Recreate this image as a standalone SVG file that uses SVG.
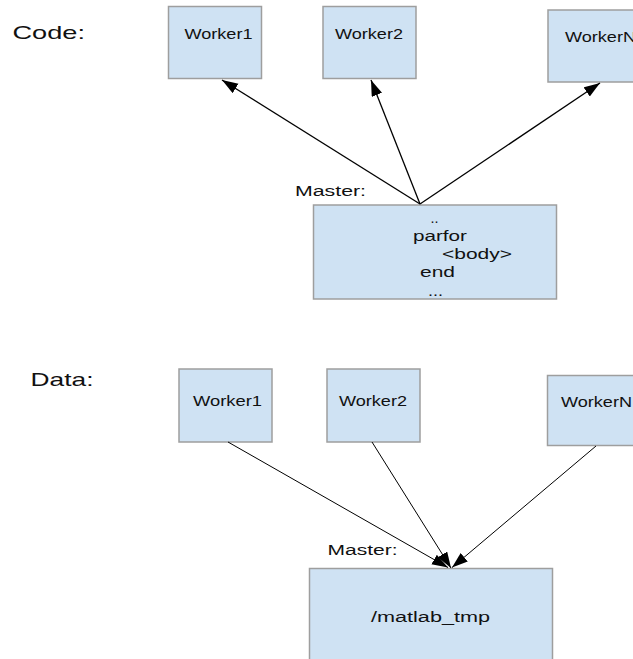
<svg xmlns="http://www.w3.org/2000/svg" width="633" height="659" viewBox="0 0 633 659">
  <style>
    .box { fill: #cfe2f3; stroke: #9e9e9e; stroke-width: 1.5; }
    .t { font-family: "Liberation Sans", Arial, sans-serif; fill: #111; }
    .lbl { font-size: 14.5px; }
    .big { font-size: 19px; }
    .mid { font-size: 15.5px; }
    .arr1 { stroke: #000; stroke-width: 1.3; fill: none; marker-end: url(#ah); }
    .arr2 { stroke: #000; stroke-width: 1; fill: none; marker-end: url(#ah); }
  </style>
  <defs>
    <marker id="ah" markerUnits="userSpaceOnUse" markerWidth="17" markerHeight="12" refX="16" refY="5.5" orient="auto">
      <path d="M0,0 L16,5.5 L0,11 z" fill="#000"/>
    </marker>
  </defs>
  <rect width="633" height="659" fill="#fff"/>

  <text class="t big" x="12.5" y="38.5" textLength="72.5" lengthAdjust="spacingAndGlyphs">Code:</text>
  <text class="t big" x="30.5" y="385.5" textLength="63" lengthAdjust="spacingAndGlyphs">Data:</text>

  <!-- Code section -->
  <g id="code-worker1">
    <rect class="box" x="168.5" y="6.5" width="93" height="72"/>
    <text class="t lbl" x="184.5" y="39" textLength="68" lengthAdjust="spacingAndGlyphs">Worker1</text>
  </g>
  <g id="code-worker2">
    <rect class="box" x="323" y="6.5" width="93" height="72"/>
    <text class="t lbl" x="335" y="39" textLength="68" lengthAdjust="spacingAndGlyphs">Worker2</text>
  </g>
  <g id="code-workerN">
    <rect class="box" x="548" y="10" width="93" height="72"/>
    <text class="t lbl" x="565" y="42" textLength="71" lengthAdjust="spacingAndGlyphs">WorkerN</text>
  </g>
  <g id="code-master">
    <text class="t mid" x="295" y="196" textLength="71" lengthAdjust="spacingAndGlyphs">Master:</text>
    <rect class="box" x="313.5" y="205" width="243" height="94"/>
    <text class="t mid" x="430.5" y="223" textLength="8" lengthAdjust="spacingAndGlyphs">..</text>
    <text class="t mid" x="413" y="241" textLength="54" lengthAdjust="spacingAndGlyphs">parfor</text>
    <text class="t mid" x="442" y="259" textLength="70" lengthAdjust="spacingAndGlyphs">&lt;body&gt;</text>
    <text class="t mid" x="420" y="276.5" textLength="35" lengthAdjust="spacingAndGlyphs">end</text>
    <text class="t mid" x="428" y="295.5" textLength="15" lengthAdjust="spacingAndGlyphs">...</text>
  </g>

  <!-- Data section -->
  <g id="data-worker1">
    <rect class="box" x="179" y="369" width="93" height="73"/>
    <text class="t lbl" x="193" y="406" textLength="69" lengthAdjust="spacingAndGlyphs">Worker1</text>
  </g>
  <g id="data-worker2">
    <rect class="box" x="327" y="369" width="93" height="73"/>
    <text class="t lbl" x="339" y="406" textLength="68" lengthAdjust="spacingAndGlyphs">Worker2</text>
  </g>
  <g id="data-workerN">
    <rect class="box" x="547.5" y="375.5" width="93" height="70"/>
    <text class="t lbl" x="561" y="406.5" textLength="71" lengthAdjust="spacingAndGlyphs">WorkerN</text>
  </g>
  <g id="data-master">
    <text class="t mid" x="327.5" y="555" textLength="70" lengthAdjust="spacingAndGlyphs">Master:</text>
    <rect class="box" x="309.5" y="568.5" width="243" height="100"/>
    <text class="t mid" x="371" y="621.5" textLength="119" lengthAdjust="spacingAndGlyphs">/matlab_tmp</text>
  </g>

  <g id="connectors">
    <line class="arr1" x1="420" y1="204" x2="222" y2="80"/>
    <line class="arr1" x1="420" y1="204" x2="371" y2="80"/>
    <line class="arr1" x1="420" y1="204" x2="600" y2="83"/>
    <line class="arr2" x1="228" y1="442" x2="448" y2="567.5"/>
    <line class="arr2" x1="372" y1="442" x2="451" y2="568"/>
    <line class="arr2" x1="596" y1="446" x2="452" y2="567.5"/>
  </g>
</svg>
